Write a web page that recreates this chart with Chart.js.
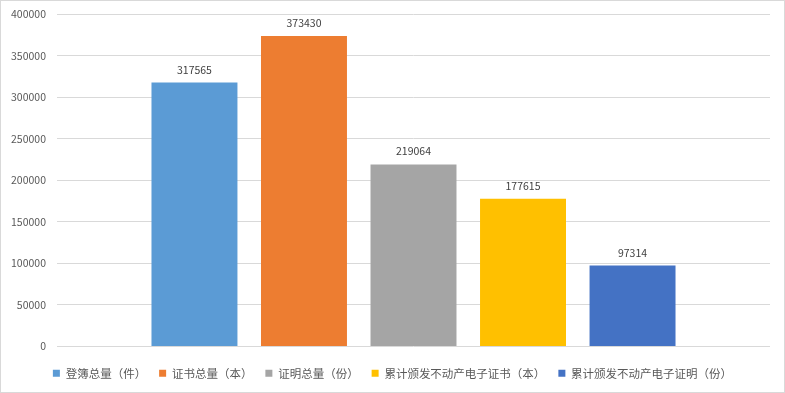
<!DOCTYPE html>
<html><head><meta charset="utf-8">
<script src="https://cdn.jsdelivr.net/npm/chart.js@4/dist/chart.umd.min.js"></script>
<style>
html,body{margin:0;padding:0;background:#fff;}
#wrap{position:absolute;left:0;top:0;width:785px;height:393px;box-sizing:border-box;border:1px solid #d9d9d9;background:#fff;}
#c{display:block;}
</style></head>
<body>
<div id="wrap"><canvas id="c" width="783" height="391" style="width:783px;height:391px"></canvas></div>
<script>
const categories = [''];
const seriesNames = ['登簿总量（件）', '证书总量（本）', '证明总量（份）', '累计颁发不动产电子证书（本）', '累计颁发不动产电子证明（份）'];
const seriesValues = [317565, 373430, 219064, 177615, 97314];
const seriesColors = ['#5B9BD5', '#ED7D31', '#A5A5A5', '#FFC000', '#4472C4'];
const yTicks = [0, 50000, 100000, 150000, 200000, 250000, 300000, 350000, 400000];

const FONT = '"Noto Sans CJK SC", "Microsoft YaHei", sans-serif';

const labelPlugin = {
  id: 'valueLabels',
  afterLayout(chart) {
    if (chart.legend) { chart.legend.left += 7; chart.legend.right += 7; }
  },
  afterDatasetsDraw(chart) {
    const ctx = chart.ctx;
    ctx.save();
    ctx.font = '10.5px ' + FONT;
    ctx.fillStyle = '#404040';
    ctx.textAlign = 'center';
    ctx.textBaseline = 'middle';
    chart.data.datasets.forEach((ds, i) => {
      const meta = chart.getDatasetMeta(i);
      meta.data.forEach((bar, j) => {
        ctx.fillText(String(ds.data[j]), bar.x, bar.y - 13);
      });
    });
    ctx.restore();
  }
};

new Chart(document.getElementById('c'), {
  type: 'bar',
  data: {
    labels: categories,
    datasets: seriesNames.map((n, i) => ({
      label: n,
      data: [seriesValues[i]],
      backgroundColor: seriesColors[i],
      borderWidth: 0,
      categoryPercentage: 0.768,
      barPercentage: 0.785
    }))
  },
  options: {
    responsive: false,
    animation: false,
    devicePixelRatio: 1,
    layout: { padding: { left: 0, right: 14, top: 13, bottom: 3 } },
    plugins: {
      tooltip: { enabled: false },
      legend: {
        position: 'bottom',
        labels: {
          boxWidth: 7, boxHeight: 7, padding: 13,
          color: '#595959',
          font: { family: FONT, size: 11.5 }
        }
      }
    },
    scales: {
      x: {
        ticks: { display: false },
        grid: { display: false, drawTicks: false },
        border: { display: false },
        afterFit: s => { s.height = 8; }
      },
      y: {
        min: 0, max: 400000,
        afterBuildTicks: s => { s.ticks = yTicks.map(v => ({ value: v })); },
        ticks: { color: '#595959', padding: 11, font: { family: FONT, size: 10.5 }, callback: v => String(v) },
        grid: { color: '#d9d9d9', lineWidth: 1, drawTicks: false },
        border: { display: false },
        afterFit: s => { s.width = 56; s.paddingTop = 0; s.paddingBottom = 0; }
      }
    }
  },
  plugins: [labelPlugin]
});
</script>
</body></html>
